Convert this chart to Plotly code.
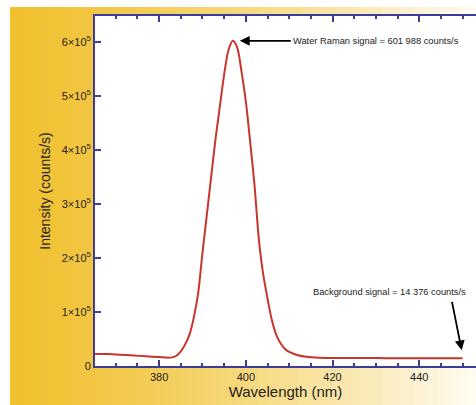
import plotly.graph_objects as go

# ---- data ----
wavelength = [365, 368, 371, 374, 377, 380, 382, 383, 384, 385, 386, 387, 388, 389,
              390, 391, 392, 393, 394, 395, 396, 397, 398, 399, 400, 401, 402, 403,
              404, 405, 406, 407, 408, 409, 410, 412, 414, 417, 420, 425, 430, 435,
              440, 445, 450]
intensity = [22000, 22000, 21000, 19500, 18000, 16500, 15500, 16000, 19000, 27000,
             40000, 58000, 90000, 135000, 210000, 280000, 350000, 420000, 480000,
             540000, 585000, 601988, 590000, 545000, 490000, 415000, 335000, 235000,
             170000, 125000, 85000, 58000, 42000, 32000, 26000, 20000, 17000, 15500,
             15000, 14800, 14600, 14500, 14400, 14400, 14376]

x_tickvals = [380, 400, 420, 440]
x_ticktext = ["380", "400", "420", "440"]
y_tickvals = [0, 100000, 200000, 300000, 400000, 500000, 600000]
y_ticktext = ["0", "1×10<sup>5</sup>", "2×10<sup>5</sup>", "3×10<sup>5</sup>",
              "4×10<sup>5</sup>", "5×10<sup>5</sup>", "6×10<sup>5</sup>"]

peak_label = "Water Raman signal = 601 988 counts/s"
bg_label = "Background signal = 14 376 counts/s"
peak_point = (398.6, 601988)
bg_point = (449.8, 29000)

# ---- layout geometry ----
W, H = 476, 405
ML, MR, MT, MB = 95, 0, 16, 39
PW, PH = W - ML - MR, H - MT - MB
AXIS = "#3b3d9c"
FONT = "Liberation Sans, Arial, sans-serif"

def px2paper_x(px):
    return (px - ML) / PW

def px2paper_y(py):
    return (H - MB - py) / PH

# gradient background: yellow (left) to near-white (right)
c0 = (240, 192, 46)
c1 = (255, 252, 242)
shapes = []
N = 60
x_start, x_end = 10, W
for i in range(N):
    a = x_start + (x_end - x_start) * i / N
    b = x_start + (x_end - x_start) * (i + 1) / N
    t = (i + 0.5) / N
    t = t ** 1.3
    col = tuple(round(c0[k] + (c1[k] - c0[k]) * t) for k in range(3))
    shapes.append(dict(type="rect", xref="paper", yref="paper", layer="below",
                       x0=px2paper_x(a), x1=px2paper_x(b) + 0.002,
                       y0=px2paper_y(H), y1=px2paper_y(7),
                       line=dict(width=0), fillcolor="rgb(%d,%d,%d)" % col))
# white plot area
shapes.append(dict(type="rect", xref="paper", yref="paper", layer="below",
                   x0=0, x1=1, y0=0, y1=1, line=dict(width=0), fillcolor="white"))

fig = go.Figure()
fig.add_trace(go.Scatter(x=wavelength, y=intensity, mode="lines",
                         line=dict(color="#c8352b", width=2, shape="spline", smoothing=0.8),
                         hoverinfo="skip", showlegend=False))

annotations = [
    dict(x=peak_point[0], y=peak_point[1], xref="x", yref="y", text=peak_label,
         xanchor="left", yanchor="middle",
         showarrow=True, ax=51, ay=0, arrowhead=2, arrowsize=1.1, arrowwidth=1.8,
         arrowcolor="black", font=dict(family=FONT, size=9.3, color="#222")),
    dict(x=bg_point[0], y=bg_point[1], xref="x", yref="y", text="",
         showarrow=True, ax=-10, ay=-50, arrowhead=2, arrowsize=1.1, arrowwidth=1.8,
         arrowcolor="black"),
    dict(x=px2paper_x(389.5), y=px2paper_y(292), xref="paper", yref="paper",
         xanchor="center", yanchor="middle",
         text=bg_label, showarrow=False, font=dict(family=FONT, size=9.3, color="#222")),
]

fig.update_layout(
    width=W, height=H, autosize=False,
    margin=dict(l=ML, r=MR, t=MT, b=MB, pad=0),
    paper_bgcolor="white", plot_bgcolor="white",
    shapes=shapes, annotations=annotations,
    font=dict(family=FONT, color="#222"),
    xaxis=dict(range=[365.2, 453.1], tickvals=x_tickvals, ticktext=x_ticktext,
               ticks="inside", ticklen=6, tickwidth=2, tickcolor=AXIS,
               minor=dict(dtick=5, tick0=0, ticks="inside", ticklen=3, tickwidth=1.5, tickcolor=AXIS),
               showline=True, linecolor=AXIS, linewidth=2, mirror="ticks",
               showgrid=False, zeroline=False,
               tickfont=dict(size=11, color="#222"),
               title=dict(text="Wavelength (nm)", font=dict(size=15, color="#222"), standoff=4)),
    yaxis=dict(range=[0, 648000], tickvals=y_tickvals, ticktext=y_ticktext,
               ticks="inside", ticklen=6, tickwidth=2, tickcolor=AXIS,
               showline=True, linecolor=AXIS, linewidth=2, mirror=False,
               showgrid=False, zeroline=False,
               tickfont=dict(size=11, color="#222"),
               title=dict(text="Intensity (counts/s)", font=dict(size=14, color="#222"), standoff=8)),
)

fig.write_html("out.html")
